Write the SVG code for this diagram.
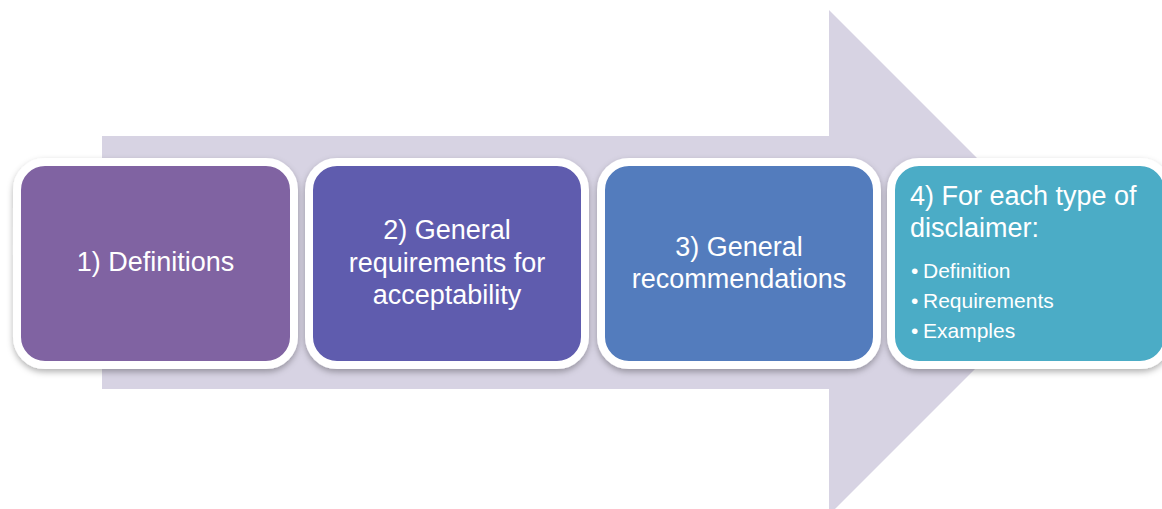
<svg xmlns="http://www.w3.org/2000/svg" width="1162" height="509" viewBox="0 0 1162 509">
  <defs>
    <filter id="sh" x="-10%" y="-10%" width="120%" height="125%">
      <feDropShadow dx="0" dy="3" stdDeviation="3" flood-color="#000" flood-opacity="0.3"/>
    </filter>
  </defs>
  <style>
    .box { stroke: #ffffff; stroke-width: 8; filter: url(#sh); }
    .t { font-family: "Liberation Sans", Arial, sans-serif; fill: #ffffff; font-size: 27px; }
    .c { text-anchor: middle; }
    .b { font-size: 21px; }
  </style>
  <rect width="1162" height="509" fill="#ffffff"/>
  <g id="arrow">
    <path d="M102,136 L829,136 L829,10 L1081.5,262.5 L829,515 L829,389 L102,389 Z" fill="#D7D3E3"/>
  </g>
  <g id="connectors"></g>
  <g id="node1">
    <rect class="box" x="17" y="162" width="277" height="203" rx="28" fill="#8064A2"/>
    <text class="t c" x="155.5" y="271">1) Definitions</text>
  </g>
  <g id="node2">
    <rect class="box" x="309" y="162" width="276" height="203" rx="28" fill="#5F5CAE"/>
    <text class="t c" x="447" y="239">2) General</text>
    <text class="t c" x="447" y="272">requirements for</text>
    <text class="t c" x="447" y="304">acceptability</text>
  </g>
  <g id="node3">
    <rect class="box" x="601" y="162" width="276" height="203" rx="28" fill="#527CBD"/>
    <text class="t c" x="739" y="256">3) General</text>
    <text class="t c" x="739" y="288">recommendations</text>
  </g>
  <g id="node4">
    <rect class="box" x="891" y="162" width="277" height="203" rx="28" fill="#4BACC6"/>
    <text class="t" x="910" y="205">4) For each type of</text>
    <text class="t" x="910" y="237">disclaimer:</text>
    <text class="t b" x="911" y="278">•<tspan x="923">Definition</tspan></text>
    <text class="t b" x="911" y="308">•<tspan x="923">Requirements</tspan></text>
    <text class="t b" x="911" y="338">•<tspan x="923">Examples</tspan></text>
  </g>
</svg>
